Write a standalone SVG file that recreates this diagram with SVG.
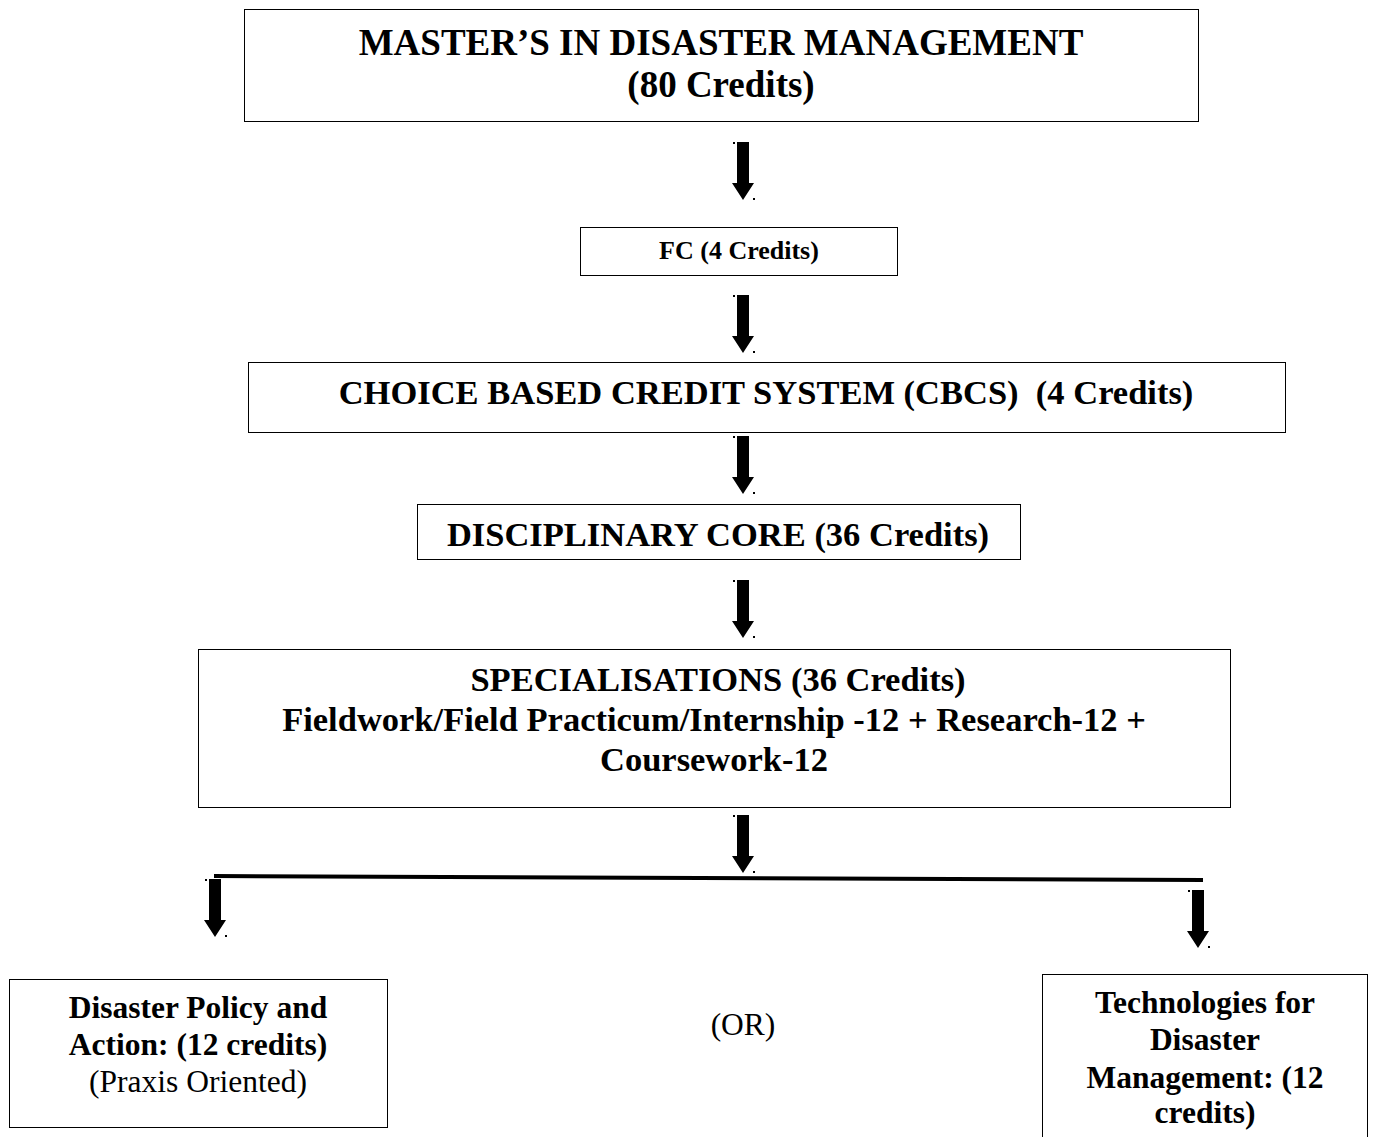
<svg xmlns="http://www.w3.org/2000/svg" width="1374" height="1137" viewBox="0 0 1374 1137">
<style>
.box{fill:#fff;stroke:#000;stroke-width:1}
.t{font-family:"Liberation Serif","Times New Roman",serif;font-weight:bold;fill:#000;text-anchor:middle}
.n{font-family:"Liberation Serif","Times New Roman",serif;fill:#000;text-anchor:middle}
.ar{fill:#000}
</style>
<defs>
<g id="arr"><path d="M-6,0 H6 V41 H11 L0,58 L-11,41 H-6 Z"/><rect x="-10" y="0" width="2" height="2"/><rect x="10" y="56" width="2" height="2"/></g>
</defs>
<rect width="1374" height="1137" fill="#fff"/>
<g id="n1"><rect class="box" x="244.5" y="9.5" width="954" height="112"/>
<text class="t" x="721" y="55" font-size="37">MASTER’S IN DISASTER MANAGEMENT</text>
<text class="t" x="721" y="97" font-size="37">(80 Credits)</text></g>
<g id="n2"><rect class="box" x="580.5" y="227.5" width="317" height="48"/>
<text class="t" x="739" y="259" font-size="26">FC (4 Credits)</text></g>
<g id="n3"><rect class="box" x="248.5" y="362.5" width="1037" height="70"/>
<text class="t" x="766" y="404" font-size="34.5">CHOICE BASED CREDIT SYSTEM (CBCS) &#160;(4 Credits)</text></g>
<g id="n4"><rect class="box" x="417.5" y="504.5" width="603" height="55"/>
<text class="t" x="718" y="546" font-size="34.5">DISCIPLINARY CORE (36 Credits)</text></g>
<g id="n5"><rect class="box" x="198.5" y="649.5" width="1032" height="158"/>
<text class="t" x="718" y="691" font-size="34.5">SPECIALISATIONS (36 Credits)</text>
<text class="t" x="714" y="731" font-size="34.5">Fieldwork/Field Practicum/Internship -12 + Research-12 +</text>
<text class="t" x="714" y="771" font-size="34.5">Coursework-12</text></g>
<g id="n6"><rect class="box" x="9.5" y="979.5" width="378" height="148"/>
<text class="t" x="198" y="1018" font-size="31.5">Disaster Policy and</text>
<text class="t" x="198" y="1055" font-size="31.5">Action: (12 credits)</text>
<text class="n" x="198" y="1092" font-size="31.5">(Praxis Oriented)</text></g>
<g id="or"><text class="n" x="743" y="1035" font-size="31.5">(OR)</text></g>
<g id="n7"><rect class="box" x="1042.5" y="974.5" width="325" height="170"/>
<text class="t" x="1205" y="1013" font-size="31.5">Technologies for</text>
<text class="t" x="1205" y="1050" font-size="31.5">Disaster</text>
<text class="t" x="1205" y="1088" font-size="31.5">Management: (12</text>
<text class="t" x="1205" y="1123" font-size="31.5">credits)</text></g>
<g id="connectors">
<use href="#arr" class="ar" x="743" y="142"/>
<use href="#arr" class="ar" x="743" y="295"/>
<use href="#arr" class="ar" x="743" y="436"/>
<use href="#arr" class="ar" x="743" y="580"/>
<use href="#arr" class="ar" x="743" y="815"/>
<line x1="214" y1="876" x2="1203" y2="880" stroke="#000" stroke-width="4"/>
<use href="#arr" class="ar" x="215" y="879"/>
<use href="#arr" class="ar" x="1198" y="890"/>
</g>
</svg>
